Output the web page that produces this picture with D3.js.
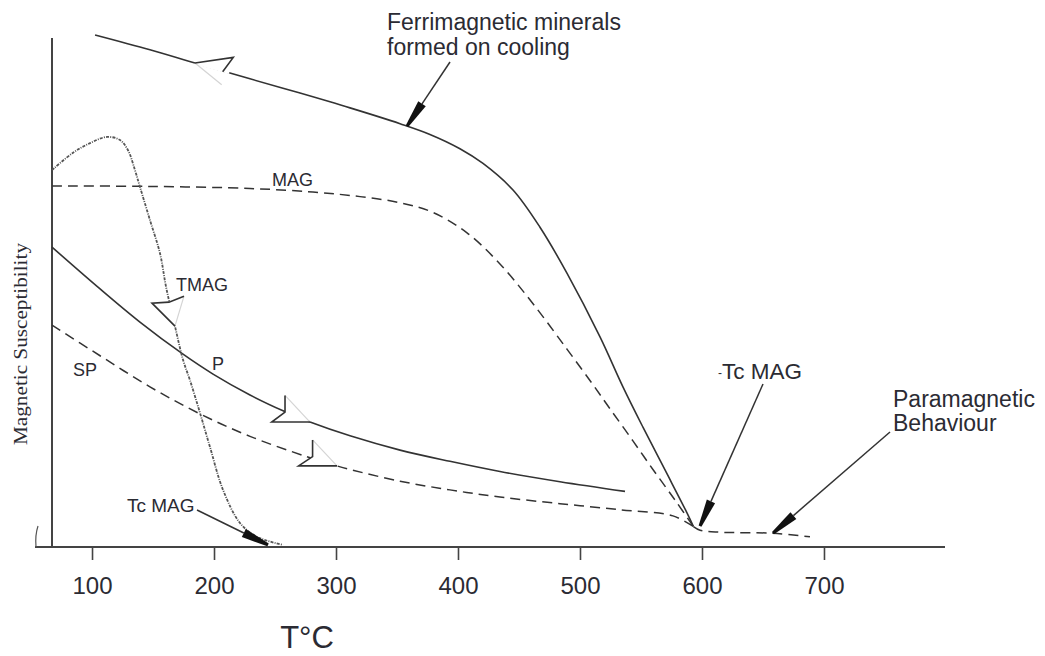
<!DOCTYPE html>
<html>
<head>
<meta charset="utf-8">
<script src="https://cdn.jsdelivr.net/npm/d3@7"></script>
<style>
  html, body { margin: 0; padding: 0; background: #fff; }
  svg { display: block; font-family: "Liberation Sans", Arial, sans-serif; }
</style>
</head>
<body>
<svg id="chart" width="1045" height="656"></svg>
<script>
// Thermomagnetic curves: temperature (°C) against relative magnetic susceptibility

// Ferrimagnetic minerals formed on cooling (solid, upper)
const ferriT = [102.5, 147.5, 184.4, 229.5, 270.5, 311.5, 352.5, 377.0, 401.6, 420.5, 445.1, 467.2, 489.3, 516.4, 535.2, 551.6, 569.7, 587.7, 593.0];
const ferriV = [100.4, 97.5, 94.9, 91.8, 89.0, 86.1, 83.0, 80.9, 78.1, 75.2, 70.0, 62.7, 53.7, 41.2, 31.4, 23.5, 15.1, 6.7, 4.0];

// Magnetite (dashed)
const magT = [67.2, 147.5, 229.5, 281.1, 319.7, 352.5, 379.5, 407.4, 434.4, 461.5, 489.3, 510.7, 524.6, 543.4, 559.8, 577.9, 593.0];
const magV = [70.8, 70.7, 70.3, 69.6, 68.7, 67.5, 65.6, 61.6, 55.5, 47.7, 38.8, 31.8, 27.1, 20.8, 15.2, 9.2, 4.0];

// Paramagnetic tail above the Curie point (dashed)
const paraT = [593.0, 598.4, 614.8, 658.2, 688.5];
const paraV = [4.0, 3.3, 2.9, 2.7, 2.0];

// Paramagnetic heating curve P (solid)
const pT = [67.2, 106.6, 139.3, 174.6, 199.2, 229.5, 256.6, 278.7, 311.5, 352.5, 393.4, 434.4, 483.6, 536.9];
const pV = [58.8, 50.6, 44.1, 37.8, 33.9, 29.8, 26.7, 24.5, 21.8, 19.0, 16.8, 14.8, 12.8, 10.9];

// Superparamagnetic curve SP (dashed)
const spT = [67.2, 106.6, 147.5, 188.5, 229.5, 276.2, 300.8, 311.5, 352.5, 393.4, 434.4, 483.6, 532.8, 576.2, 593.0];
const spV = [43.5, 37.5, 31.4, 26.1, 21.7, 17.7, 15.9, 15.2, 12.9, 11.2, 9.8, 8.5, 7.3, 6.1, 4.0];

// Titanomagnetite TMAG (dash-dot)
const tmagT = [67.2, 84.4, 98.4, 112.3, 122.9, 129.5, 135.2, 139.3, 147.5, 155.7, 160.7, 168.0, 174.6, 180.3, 188.5, 196.7, 207.4, 221.3, 235.2, 256.6];
const tmagV = [73.9, 77.3, 79.2, 80.4, 79.8, 77.8, 73.9, 70.6, 64.1, 57.6, 51.0, 43.3, 36.7, 32.7, 26.3, 19.6, 11.2, 4.7, 2.0, 0.4];

const xTicks = [100, 200, 300, 400, 500, 600, 700];

const svg = d3.select("#chart");
const ink = "#333";
const textInk = "#2b2b33";

const x = d3.scaleLinear().domain([67.2, 799.2]).range([52, 945]);
const y = d3.scaleLinear().domain([0, 100]).range([547, 37]);

const zip = (ts, vs) => ts.map((t, i) => [t, vs[i]]);
const line = d3.line()
  .x(d => x(d[0]))
  .y(d => y(d[1]))
  .curve(d3.curveCatmullRom.alpha(0.5));

// ---- axes ----
const xAxis = d3.axisBottom(x).tickValues(xTicks).tickSize(13).tickPadding(17).tickFormat(d3.format("d"));
const gx = svg.append("g").attr("transform", `translate(0,${y(0)})`).call(xAxis);
gx.select(".domain").remove();
gx.selectAll(".tick line").attr("stroke", "#444").attr("stroke-width", 1.6);
gx.selectAll(".tick text")
  .attr("fill", textInk)
  .style("font-size", "24px")
  .style("font-family", "'Liberation Sans', Arial, sans-serif");

svg.append("line")
  .attr("x1", 35).attr("x2", 945)
  .attr("y1", y(0)).attr("y2", y(0))
  .attr("stroke", "#444").attr("stroke-width", 2);
svg.append("line")
  .attr("x1", x(67.2)).attr("x2", x(67.2))
  .attr("y1", y(0)).attr("y2", 38)
  .attr("stroke", "#444").attr("stroke-width", 2);
// small stray stroke at the left end of the baseline
svg.append("path")
  .attr("d", `M38,${y(0) - 21} Q35,${y(0) - 12} 36,${y(0)}`)
  .attr("fill", "none").attr("stroke", "#555").attr("stroke-width", 1.2);

svg.append("text")
  .attr("x", 307).attr("y", 648)
  .attr("text-anchor", "middle")
  .attr("fill", textInk)
  .style("font-size", "31px")
  .text("T°C");

svg.append("text")
  .attr("transform", "translate(27,344) rotate(-90)")
  .attr("text-anchor", "middle")
  .attr("fill", textInk)
  .attr("textLength", 202)
  .attr("lengthAdjust", "spacingAndGlyphs")
  .style("font-family", "'Liberation Serif', 'Times New Roman', serif")
  .style("font-size", "19px")
  .text("Magnetic Susceptibility");

// ---- curves ----
const curves = [
  { data: zip(magT, magV), dash: "10,6", color: ink, width: 1.5 },
  { data: zip(paraT, paraV), dash: "10,6", color: ink, width: 1.5 },
  { data: zip(spT, spV), dash: "10,6", color: ink, width: 1.5 },
  { data: zip(pT, pV), dash: null, color: ink, width: 1.6 },
  { data: zip(ferriT, ferriV), dash: null, color: ink, width: 1.6 },
  { data: zip(tmagT, tmagV), dash: "3,1.2,1,1.2", color: "#555", width: 1.8 }
];
svg.append("g").selectAll("path")
  .data(curves)
  .join("path")
  .attr("d", d => line(d.data))
  .attr("fill", "none")
  .attr("stroke", d => d.color)
  .attr("stroke-width", d => d.width)
  .attr("stroke-dasharray", d => d.dash);

// ---- direction arrowheads sitting on the curves ----
const P = (o, p) => [o[0] + p[0], o[1] + p[1]];
const dirArrows = [
  { at: [184.4, 94.9], hide: [[0, -1], [38, -6], [34, 11], [0, 1.5]],
    dark: [[27.7, 8.7], [38.3, -5.6], [0, 0]], faint: [[0, 0], [26.7, 21.7]] },
  { at: [278.7, 24.5], hide: [[0, 0], [-25, -26.6], [-25, -10], [-38.3, 0]],
    dark: [[-25, -26.6], [-25, -10], [-38.3, 0], [0, 0]], faint: [[-25, -26.6], [0, 0]] },
  { at: [300.8, 15.9], hide: [[0, 0], [-24.4, -26], [-24.4, -9.3], [-38.4, 0]],
    dark: [[-24.4, -26], [-24.4, -9.3], [-38.4, 0], [0, 0]], faint: [[-24.4, -26], [0, 0]] },
  { at: [168.0, 43.3], hide: [[0, 0], [9, -30], [-6, -24], [-23, -23]],
    dark: [[9, -30], [-6, -24], [-23, -23], [0, 0]], faint: [[9, -30], [0, 0]] }
];
const ga = svg.append("g");
dirArrows.forEach(a => {
  const o = [x(a.at[0]), y(a.at[1])];
  ga.append("polygon")
    .attr("points", a.hide.map(p => P(o, p).join(",")).join(" "))
    .attr("fill", "#fff");
  ga.append("polyline")
    .attr("points", a.faint.map(p => P(o, p).join(",")).join(" "))
    .attr("fill", "none").attr("stroke", "#d4d4d4").attr("stroke-width", 1.2);
  ga.append("polyline")
    .attr("points", a.dark.map(p => P(o, p).join(",")).join(" "))
    .attr("fill", "none").attr("stroke", ink).attr("stroke-width", 1.6)
    .attr("stroke-linejoin", "miter");
});

// ---- pointer arrows from labels ----
const pointers = [
  { from: [450, 62], at: [358.2, 82.5] },
  { from: [763, 384], at: [598.4, 4.1] },
  { from: [890, 432], at: [658.2, 2.7] },
  { from: [197, 510], at: [244.3, 0.4] }
];
const gp = svg.append("g");
pointers.forEach(p => {
  const tip = [x(p.at[0]), y(p.at[1])];
  const dx = tip[0] - p.from[0], dy = tip[1] - p.from[1];
  const len = Math.hypot(dx, dy);
  const u = [dx / len, dy / len], n = [-u[1], u[0]];
  const L = 27;
  const base = [tip[0] - L * u[0], tip[1] - L * u[1]];
  gp.append("line")
    .attr("x1", p.from[0]).attr("y1", p.from[1])
    .attr("x2", base[0]).attr("y2", base[1])
    .attr("stroke", ink).attr("stroke-width", 1.5);
  const pts = [
    [base[0] + 4.5 * n[0], base[1] + 4.5 * n[1]],
    [tip[0] + 1.5 * n[0], tip[1] + 1.5 * n[1]],
    [tip[0] - 1.5 * n[0], tip[1] - 1.5 * n[1]],
    [base[0] - 4.5 * n[0], base[1] - 4.5 * n[1]]
  ];
  gp.append("polygon").attr("points", pts.map(q => q.join(",")).join(" ")).attr("fill", "#111");
});

// ---- labels ----
const labels = [
  { text: "Ferrimagnetic minerals", x: 387, y: 30, size: 23 },
  { text: "formed on cooling", x: 387, y: 55, size: 23 },
  { text: "MAG", x: 272, y: 186, size: 18 },
  { text: "TMAG", x: 176, y: 291, size: 18 },
  { text: "P", x: 212, y: 370, size: 18 },
  { text: "SP", x: 73, y: 376, size: 18 },
  { text: "Tc MAG", x: 127, y: 512, size: 19 },
  { text: "Paramagnetic", x: 893, y: 407, size: 23 },
  { text: "Behaviour", x: 893, y: 431, size: 23 }
];
svg.append("g").selectAll("text")
  .data(labels)
  .join("text")
  .attr("x", d => d.x).attr("y", d => d.y)
  .attr("fill", textInk)
  .style("font-size", d => d.size + "px")
  .text(d => d.text);

const tc = svg.append("text").attr("x", 718).attr("y", 379).attr("fill", textInk).style("font-size", "22.5px");
tc.append("tspan").style("font-size", "12px").attr("dy", -2).text("-");
tc.append("tspan").attr("dy", 2).text("Tc MAG");
</script>
</body>
</html>
